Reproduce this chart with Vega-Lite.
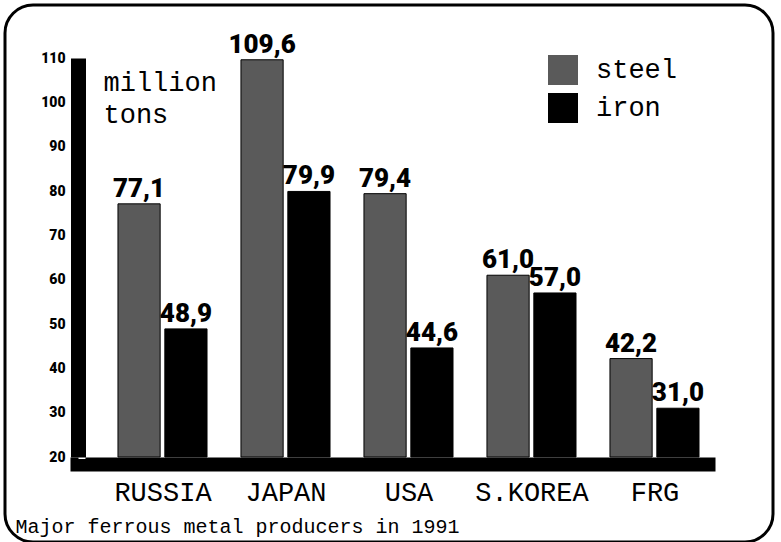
{
  "$schema": "https://vega.github.io/schema/vega-lite/v6.json",
  "width": 768,
  "height": 537,
  "autosize": "none",
  "padding": {"left": 5, "top": 5, "right": 8, "bottom": 0},
  "background": "white",
  "config": {"view": {"stroke": "black", "strokeWidth": 3, "cornerRadius": 28}},
  "data": {"values": [
    {"country": "RUSSIA", "type": "steel", "value": 77.1, "label": "77,1"},
    {"country": "RUSSIA", "type": "iron", "value": 48.9, "label": "48,9"},
    {"country": "JAPAN", "type": "steel", "value": 109.6, "label": "109,6"},
    {"country": "JAPAN", "type": "iron", "value": 79.9, "label": "79,9"},
    {"country": "USA", "type": "steel", "value": 79.4, "label": "79,4"},
    {"country": "USA", "type": "iron", "value": 44.6, "label": "44,6"},
    {"country": "S.KOREA", "type": "steel", "value": 61.0, "label": "61,0"},
    {"country": "S.KOREA", "type": "iron", "value": 57.0, "label": "57,0"},
    {"country": "FRG", "type": "steel", "value": 42.2, "label": "42,2"},
    {"country": "FRG", "type": "iron", "value": 31.0, "label": "31,0"}
  ]},
  "encoding": {
    "x": {
      "field": "country", "type": "nominal",
      "sort": ["RUSSIA", "JAPAN", "USA", "S.KOREA", "FRG"],
      "scale": {"range": [65, 710], "paddingInner": 0.276, "paddingOuter": 0.26, "align": 0.75},
      "axis": {
        "orient": "bottom", "offset": -78,
        "domainColor": "black", "domainWidth": 14,
        "ticks": true, "tickBand": "extent", "tickColor": "white", "tickWidth": 3, "tickSize": 7,
        "labelFont": "Liberation Mono", "labelFontSize": 27, "labelColor": "black", "labelPadding": 8, "labelAngle": 0,
        "title": "Major ferrous metal producers in 1991",
        "titleX": 10, "titleY": 68, "titleAlign": "left", "titleBaseline": "alphabetic", "titleAnchor": "start",
        "titleFont": "Liberation Mono", "titleFontSize": 20, "titleFontWeight": "normal", "titleColor": "black"
      }
    },
    "xOffset": {"field": "type", "type": "nominal", "sort": ["steel", "iron"], "scale": {"paddingInner": 0.1}},
    "y": {
      "field": "value", "type": "quantitative",
      "scale": {"domain": [20, 110], "range": [452, 53], "nice": false, "zero": false},
      "axis": {
        "values": [20, 30, 40, 50, 60, 70, 80, 90, 100, 110],
        "offset": -73, "grid": false,
        "domainColor": "black", "domainWidth": 15,
        "tickColor": "white", "tickWidth": 3, "tickSize": -7,
        "labelFont": "Roboto", "labelFontWeight": 900, "labelFontSize": 14, "labelColor": "black", "labelPadding": 20,
        "title": ["million", "tons"], "titleAngle": 0, "titleAlign": "left", "titleBaseline": "alphabetic",
        "titleX": 25, "titleY": 85, "titleFont": "Liberation Mono", "titleFontWeight": "normal", "titleFontSize": 27, "titleLineHeight": 32, "titleColor": "black"
      }
    }
  },
  "layer": [
    {
      "mark": {"type": "bar", "stroke": "black", "strokeWidth": 1},
      "encoding": {
        "y2": {"datum": 20},
        "color": {
          "field": "type", "type": "nominal", "sort": ["steel", "iron"],
          "scale": {"domain": ["steel", "iron"], "range": ["#5a5a5a", "#000000"]},
          "legend": {
            "orient": "none", "legendX": 543, "legendY": 50, "title": null, "padding": 0,
            "symbolType": "square", "symbolSize": 900, "symbolStrokeWidth": 0,
            "labelFont": "Liberation Mono", "labelFontSize": 27, "labelColor": "black", "rowPadding": 8, "labelOffset": 18
          }
        }
      }
    },
    {
      "mark": {"type": "text", "baseline": "alphabetic", "dy": -7, "font": "Roboto", "fontWeight": 900, "fontSize": 26, "color": "black"},
      "encoding": {"text": {"field": "label"}}
    }
  ]
}
